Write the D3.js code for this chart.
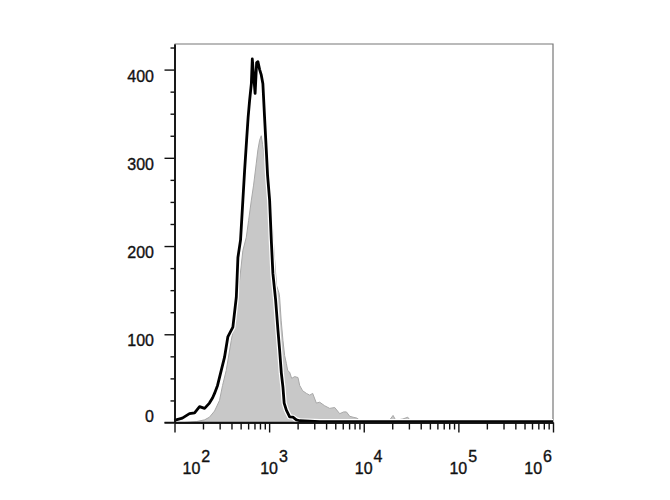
<!DOCTYPE html>
<html>
<head>
<meta charset="utf-8">
<script src="https://cdn.jsdelivr.net/npm/d3@7"></script>
<style>
  html, body { margin: 0; padding: 0; background: #fff; }
  svg { display: block; font-family: "Liberation Sans", Arial, sans-serif; }
</style>
</head>
<body>
<svg id="chart" width="670" height="500"></svg>
<script>
// ---- data ----
// isotype / control histogram (gray filled): fluorescence intensity, event count
const grayX = [128, 170, 208, 234, 265, 299, 322, 352, 398, 450, 487, 528, 574, 607, 649, 685, 732, 761, 794, 826, 853, 873, 895, 933, 963, 1030, 1089, 1143, 1200, 1270, 1291, 1340, 1400, 1458, 1521, 1570, 1648, 1730, 1862, 2018, 2104, 2260, 2477, 2686, 2886, 3157, 3423, 3861, 4365, 4933, 5571, 6138, 6561, 7112, 7710, 8440, 9080, 11560, 14760, 18840, 20400, 21800, 25900, 29200, 31400, 39200, 60000, 200000, 1000000];
const grayY = [0, 1, 3, 6, 13, 25, 42, 59, 93, 124, 161, 195, 210, 229, 252, 269, 294, 309, 320, 325, 315, 309, 298, 294, 275, 252, 218, 184, 155, 147, 142, 116, 93, 76, 67, 59, 57, 50, 52, 51, 42, 36, 33, 31, 33, 22, 23, 19, 16, 17, 10, 12, 12, 7, 6, 5, 2.5, 1, 1, 3, 8, 2.5, 4, 6, 1.5, 0.5, 0.2, 0, 0];
// stained sample histogram (black line)
const blackX = [100, 104, 121, 144, 163, 184, 208, 234, 253, 265, 285, 312, 338, 366, 414, 450, 468, 499, 528, 551, 578, 600, 622, 649, 664, 685, 711, 738, 761, 794, 826, 859, 895, 933, 963, 1012, 1054, 1096, 1171, 1239, 1291, 1346, 1400, 1442, 1521, 1648, 1786, 1941, 2104, 3423, 9080, 81300, 1000000];
const blackY = [2, 3, 5, 10, 11, 18, 16, 22, 28, 33, 42, 59, 74, 97, 108, 142, 187, 207, 252, 286, 320, 346, 365, 384, 412, 394, 373, 408, 409, 400, 394, 384, 346, 309, 280, 252, 207, 169, 139, 105, 82, 56, 40, 22, 14, 6.5, 6, 3, 2, 1, 1, 1, 1];
// axis ticks
const xMajorTicks = [1e2, 1e3, 1e4, 1e5, 1e6];
const xTickExponents = ["2", "3", "4", "5", "6"];
const yMajorTicks = [0, 100, 200, 300, 400];
const yMinorTicks = [25, 50, 75, 125, 150, 175, 225, 250, 275, 325, 350, 375, 425];

// ---- layout ----
const svg = d3.select("#chart");
const mL = 174.5, mR = 553, mT = 44, mB = 422.5;
const x = d3.scaleLog().domain([100, 1e6]).range([mL, mR]);
const y = d3.scaleLinear().domain([0, 429]).range([mB, mT]);

const xMinor = [];
for (let e = 2; e < 6; e++) for (let m = 2; m <= 9; m++) xMinor.push(m * Math.pow(10, e));

// frame (top, right)
svg.append("path")
  .attr("d", `M${mL},${mT}H${mR}V${mB}`)
  .attr("fill", "none").attr("stroke", "#777").attr("stroke-width", 1.2);

// gray histogram
const grayData = grayX.map((v, i) => [v, grayY[i]]);
const blackData = blackX.map((v, i) => [v, blackY[i]]);
const area = d3.area().x(d => x(d[0])).y0(y(0)).y1(d => y(d[1]));
const line = d3.line().x(d => x(d[0])).y(d => y(d[1]));

svg.append("path").datum(grayData).attr("d", area)
  .attr("fill", "#c8c8c8").attr("stroke", "none");
svg.append("path").datum(grayData).attr("d", line)
  .attr("fill", "none").attr("stroke", "#a8a8a8").attr("stroke-width", 1);

// black histogram with white halo
svg.append("path").datum(blackData).attr("d", line)
  .attr("fill", "none").attr("stroke", "#fff").attr("stroke-width", 5.2).attr("stroke-linejoin", "round");
svg.append("path").datum(blackData).attr("d", line)
  .attr("fill", "none").attr("stroke", "#000").attr("stroke-width", 2.8).attr("stroke-linejoin", "round");

// axes
function styleAxis(g) {
  g.selectAll("path.domain").attr("stroke", "#111").attr("stroke-width", 1.6);
  g.selectAll(".tick line").attr("stroke", "#111").attr("stroke-width", 1.4);
  g.selectAll(".tick text").remove();
}
svg.append("g").attr("transform", `translate(0,${mB})`)
  .call(d3.axisBottom(x).tickValues(xMinor).tickSize(7).tickSizeOuter(0).tickFormat(""))
  .call(styleAxis);
svg.append("g").attr("transform", `translate(0,${mB})`)
  .call(d3.axisBottom(x).tickValues(xMajorTicks).tickSize(10).tickSizeOuter(0).tickFormat(""))
  .call(styleAxis);
svg.append("g").attr("transform", `translate(${mL},0)`)
  .call(d3.axisLeft(y).tickValues(yMinorTicks).tickSize(4).tickSizeOuter(0).tickFormat(""))
  .call(styleAxis);
svg.append("g").attr("transform", `translate(${mL},0)`)
  .call(d3.axisLeft(y).tickValues(yMajorTicks).tickSize(10).tickSizeOuter(0).tickFormat(""))
  .call(styleAxis);
svg.append("line").attr("x1", mL - 10).attr("x2", mR).attr("y1", mB).attr("y2", mB)
  .attr("stroke", "#111").attr("stroke-width", 1.6);

// y labels
svg.selectAll("text.ylab").data(yMajorTicks).enter().append("text")
  .attr("class", "ylab")
  .attr("x", 154)
  .attr("y", d => y(d) + (d === 0 ? -6 : 6.5))
  .attr("dy", "0.35em")
  .attr("text-anchor", "end")
  .attr("font-size", 16)
  .attr("fill", "#111")
  .attr("stroke", "#111").attr("stroke-width", 0.35)
  .text(d => d);

// x labels: 10^n
const n = xMajorTicks.length;
const xl = svg.selectAll("text.xlab").data(xMajorTicks).enter().append("text")
  .attr("class", "xlab")
  .attr("x", (d, i) => i === 0 ? x(d) + 8 : (i === n - 1 ? x(d) - 1 : x(d) - 9))
  .attr("y", 474)
  .attr("text-anchor", (d, i) => i === n - 1 ? "end" : "start")
  .attr("font-size", 16)
  .attr("fill", "#111")
  .attr("stroke", "#111").attr("stroke-width", 0.35);
xl.append("tspan").text("10");
xl.append("tspan").attr("dx", 1).attr("dy", -12).attr("font-size", 16).text((d, i) => xTickExponents[i]);
</script>
</body>
</html>
